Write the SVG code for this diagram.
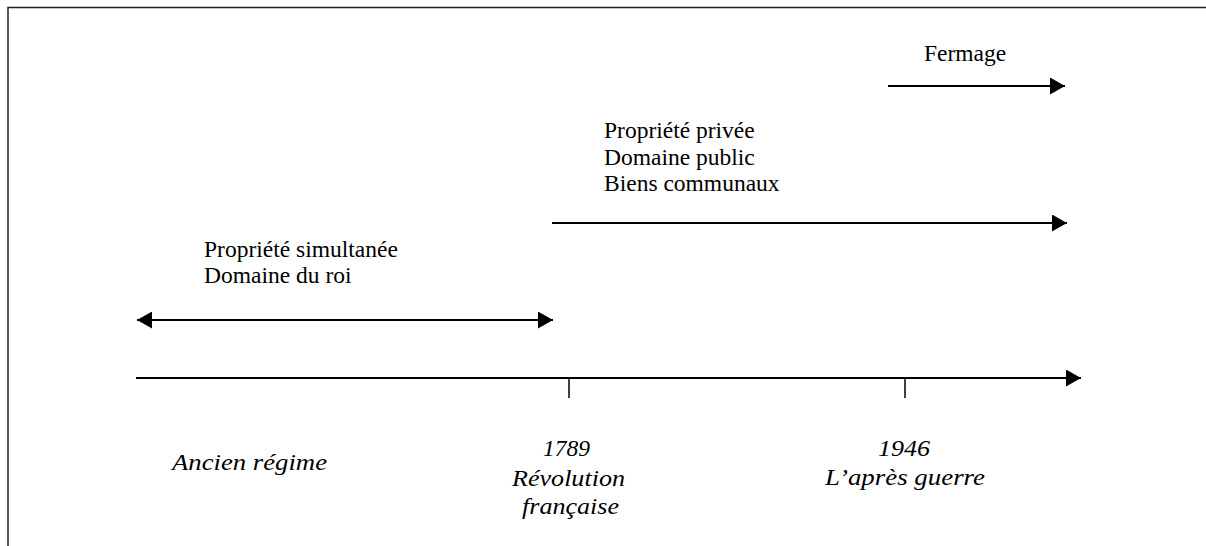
<svg xmlns="http://www.w3.org/2000/svg" width="1206" height="546" viewBox="0 0 1206 546">
<style>
.t{font-size:23.5px;fill:#000}
.i{font-size:23.5px;font-style:italic;fill:#000}
.ln{stroke:#000;stroke-width:2;fill:none}
.tk{stroke:#000;stroke-width:1.5;fill:none}
.fr{stroke:#222;stroke-width:1.5;fill:none}
</style>
<defs>
<marker id="ah" markerWidth="16" markerHeight="17" refX="15" refY="8.5" orient="auto" markerUnits="userSpaceOnUse">
<path d="M0,0 L15,8.5 L0,17 Z" fill="#000"/>
</marker>
<marker id="as" markerWidth="16" markerHeight="17" refX="1" refY="8.5" orient="auto" markerUnits="userSpaceOnUse">
<path d="M16,0 L1,8.5 L16,17 Z" fill="#000"/>
</marker>
</defs>
<g id="frame">
<path class="fr" d="M1206,7.5 H8 V546"/>
</g>
<g id="connectors">
<line id="timeline" class="ln" x1="136" y1="378" x2="1081" y2="378" marker-end="url(#ah)"/>
<line class="tk" x1="569" y1="378" x2="569" y2="398"/>
<line class="tk" x1="905" y1="378" x2="905" y2="398"/>
<line id="ancien-arrow" class="ln" x1="137" y1="320" x2="553" y2="320" marker-start="url(#as)" marker-end="url(#ah)"/>
<line id="revolution-arrow" class="ln" x1="552" y1="223" x2="1067" y2="223" marker-end="url(#ah)"/>
<line id="fermage-arrow" class="ln" x1="888" y1="86" x2="1065" y2="86" marker-end="url(#ah)"/>
</g>
<g font-family="Liberation Serif, Times New Roman, serif">
<g id="node-ancien">
<text class="t" x="204" y="257">Propriété simultanée</text>
<text class="t" x="204" y="283">Domaine du roi</text>
</g>
<g id="node-revolution">
<text class="t" x="604" y="138">Propriété privée</text>
<text class="t" x="604" y="164.5">Domaine public</text>
<text class="t" x="604" y="191">Biens communaux</text>
</g>
<g id="node-fermage">
<text class="t" x="924" y="61">Fermage</text>
</g>
<g id="label-ancien">
<text class="i" x="172" y="470" textLength="155" lengthAdjust="spacingAndGlyphs">Ancien régime</text>
</g>
<g id="label-1789">
<text class="i" x="543" y="456" textLength="47" lengthAdjust="spacingAndGlyphs">1789</text>
<text class="i" x="512" y="485.5" textLength="113" lengthAdjust="spacingAndGlyphs">Révolution</text>
<text class="i" x="522" y="514" textLength="97" lengthAdjust="spacingAndGlyphs">française</text>
</g>
<g id="label-1946">
<text class="i" x="878" y="456" textLength="52" lengthAdjust="spacingAndGlyphs">1946</text>
<text class="i" x="825" y="485" textLength="160" lengthAdjust="spacingAndGlyphs">L’après guerre</text>
</g>
</g>
</svg>
